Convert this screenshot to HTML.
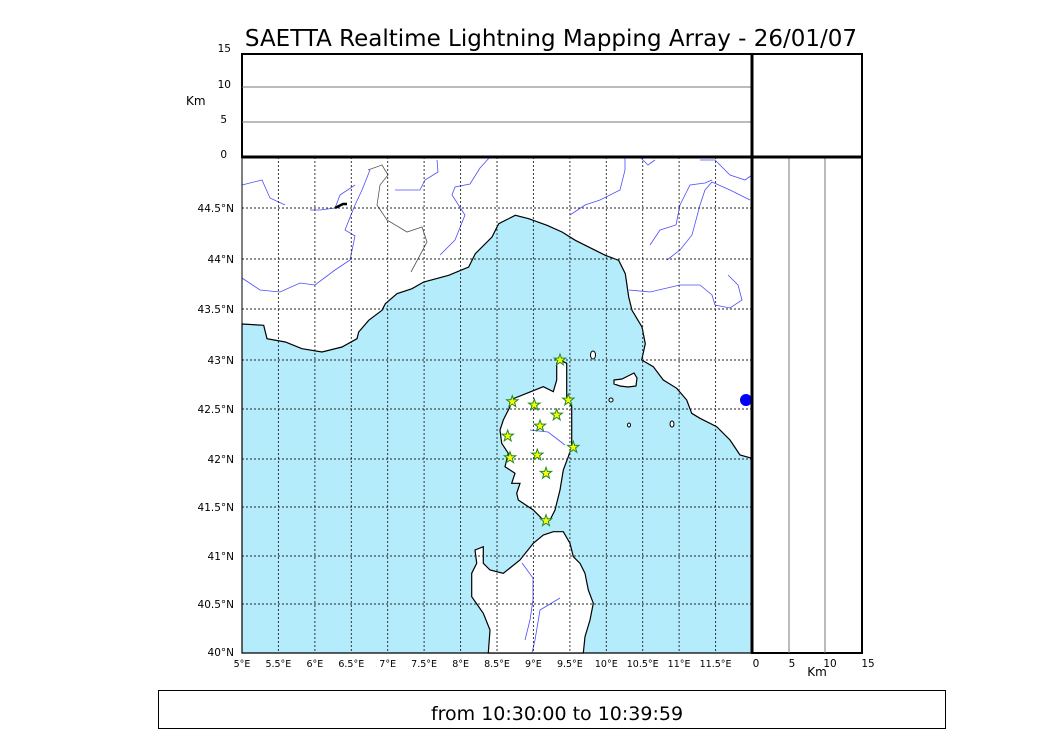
<!DOCTYPE html>
<html><head><meta charset="utf-8"><style>
body{margin:0;background:#fff;}
svg{display:block;font-family:"DejaVu Sans","Liberation Sans",sans-serif;}
</style></head><body>
<svg width="1050" height="750" viewBox="0 0 1050 750" xmlns="http://www.w3.org/2000/svg">
<text x="551" y="46" font-size="23" text-anchor="middle">SAETTA Realtime Lightning Mapping Array - 26/01/07</text>
<rect x="242" y="157" width="510" height="496" fill="#fff"/>
<polygon fill="#b5ecfb" stroke="#000" stroke-width="1.2" points="242,324 263.7,325.3 267,338.7 285.3,342 302,348.7 322,352 342,347 357,338.7 358.7,332 368.7,320.3 382,310.3 385.3,303.7 397,293.7 412,288.7 423.7,282 448.7,275.3 468.7,267 475.3,253.7 492,237 498.7,223.7 515.3,215.3 528.7,218.7 547,225.3 562,232 575.3,240.3 592,248.7 605.3,255.3 618.7,260.3 625.3,273.7 628.7,297 632,310.3 642,327 645.3,343.7 641.7,360 653.3,366.7 663.3,380 676.7,388.3 686.7,400 691.7,413.3 700,418.3 716.7,426.7 730,440 740,455 752,458.3 752,653 242,653"/>
<polygon fill="#fff" stroke="#000" stroke-width="1.2" points="560,360 566.7,363.3 566.7,396.7 571.7,406.7 571.7,446.7 568.3,456.7 563.3,470 560,490 555,510 550,520 543.3,520 533.3,510 518.3,500 516.7,493.3 520,483.3 511.7,483.3 515,473.3 505,466.7 508.3,453.3 501.7,443.3 500,430 503.3,420 510,406.7 510,400 526.7,393.3 543.3,386.7 553.3,391.7 556.7,380 556.7,363.3"/>
<polygon fill="#fff" stroke="#000" stroke-width="1.2" points="553.3,531.7 563.3,531.7 570,543.3 573.3,556.7 580,563.3 585,573.3 588.3,590 593.3,603.3 590,620 585,636.7 583.3,653 488.3,653 490,630 483.3,613.3 471.7,596.7 471.7,573.3 476.7,563.3 475,550 483.3,546.7 483.3,563.3 490,570 503.3,573.3 520,560 533.3,543.3 543.3,535"/>
<polygon fill="#fff" stroke="#000" stroke-width="1.2" points="614,380 622,379 628,376 634,373 637,378 636,386 628,387 620,386 614,384"/>
<ellipse cx="593" cy="355" rx="2.5" ry="4" fill="#fff" stroke="#000"/>
<ellipse cx="611" cy="400" rx="2" ry="2" fill="#fff" stroke="#000"/>
<ellipse cx="629" cy="425" rx="1.5" ry="2" fill="#fff" stroke="#000"/>
<ellipse cx="672" cy="424" rx="2" ry="3" fill="#fff" stroke="#000"/>
<ellipse cx="746" cy="400" rx="6" ry="6" fill="#0000ff"/>
<g fill="none" stroke="#4d4dff" stroke-width="0.8">
<polyline points="242,185 262,180 270,198 285,205"/>
<polyline points="242,278 260,290 280,292 300,283 315,285 335,270 350,260 355,236 345,230 355,205 362,190 370,170"/>
<polyline points="310,210 320,210 335,208 340,195 355,185"/>
<polyline points="395,190 420,190 425,180 438,172 437,160"/>
<polyline points="440,255 455,240 465,215 452,195 455,187 470,184 480,168 490,157"/>
<polyline points="570,215 585,205 600,200 620,190 625,170 625,157"/>
<polyline points="640,157 648,165 655,160"/>
<polyline points="650,245 660,230 676,225 680,205 690,185 705,183 712,180"/>
<polyline points="667,260 680,250 692,235 700,205 705,190 712,182 730,190 750,200"/>
<polyline points="629,290 650,292 680,285 700,285 712,295 715,305 730,308 742,300 738,285 728,275"/>
<polyline points="700,160 715,160 730,175 745,180 752,175"/>
<polyline points="530,430 548,432 565,445"/>
<polyline points="522,563 533,578 533,600 530,620 525,640"/>
<polyline points="560,598 540,610 535,640 532,653"/>
</g>
<path d="M368,170 l14,-5 l6,10 l-8,10 l-3,20 l10,15 l20,12 l15,-5 l5,15 l-8,15 l-8,15" fill="none" stroke="#555" stroke-width="0.8"/>
<path d="M335,208 l8,-4 h4" fill="none" stroke="#000" stroke-width="2.5"/>
<g stroke="#222" stroke-width="0.9" stroke-dasharray="2,2">
<line x1="278.4" y1="157" x2="278.4" y2="653"/><line x1="314.9" y1="157" x2="314.9" y2="653"/><line x1="351.3" y1="157" x2="351.3" y2="653"/><line x1="387.7" y1="157" x2="387.7" y2="653"/><line x1="424.1" y1="157" x2="424.1" y2="653"/><line x1="460.6" y1="157" x2="460.6" y2="653"/><line x1="497" y1="157" x2="497" y2="653"/><line x1="533.4" y1="157" x2="533.4" y2="653"/><line x1="569.9" y1="157" x2="569.9" y2="653"/><line x1="606.3" y1="157" x2="606.3" y2="653"/><line x1="642.7" y1="157" x2="642.7" y2="653"/><line x1="679.1" y1="157" x2="679.1" y2="653"/><line x1="715.6" y1="157" x2="715.6" y2="653"/>
<line x1="242" y1="604" x2="752" y2="604"/><line x1="242" y1="556" x2="752" y2="556"/><line x1="242" y1="507" x2="752" y2="507"/><line x1="242" y1="459" x2="752" y2="459"/><line x1="242" y1="409" x2="752" y2="409"/><line x1="242" y1="360" x2="752" y2="360"/><line x1="242" y1="309" x2="752" y2="309"/><line x1="242" y1="259" x2="752" y2="259"/><line x1="242" y1="208" x2="752" y2="208"/>
</g>
<g fill="#ffff00" stroke="#228b22" stroke-width="1">
<path id="s" d="M0,-6 L1.4,-1.9 5.7,-1.9 2.3,0.7 3.5,4.9 0,2.4 -3.5,4.9 -2.3,0.7 -5.7,-1.9 -1.4,-1.9Z" transform="translate(560,360)"/>
<use href="#s" transform="translate(-47.7,41.7)"/><use href="#s" transform="translate(-25.7,45)"/><use href="#s" transform="translate(8.3,40)"/><use href="#s" transform="translate(-3.3,55)"/><use href="#s" transform="translate(-20,66)"/><use href="#s" transform="translate(-52.3,76)"/><use href="#s" transform="translate(13.3,87.3)"/><use href="#s" transform="translate(-50,97.7)"/><use href="#s" transform="translate(-22.7,95)"/><use href="#s" transform="translate(-14,113.3)"/><use href="#s" transform="translate(-14,160.7)"/>
</g>
<rect x="242" y="157" width="510" height="496" fill="none" stroke="#000" stroke-width="1"/>
<rect x="242" y="54" width="620" height="103" fill="none" stroke="#000" stroke-width="2"/>
<line x1="242" y1="87" x2="752" y2="87" stroke="#777" stroke-width="1"/>
<line x1="242" y1="122" x2="752" y2="122" stroke="#777" stroke-width="1"/>
<rect x="752" y="157" width="110" height="496" fill="none" stroke="#000" stroke-width="2"/>
<line x1="789" y1="157" x2="789" y2="653" stroke="#777"/>
<line x1="825" y1="157" x2="825" y2="653" stroke="#777"/>
<line x1="242" y1="157" x2="862" y2="157" stroke="#000" stroke-width="3"/>
<line x1="752" y1="54" x2="752" y2="653" stroke="#000" stroke-width="3"/>
<g font-size="10.5" text-anchor="end">
<text x="231" y="52">15</text><text x="231" y="88">10</text><text x="227" y="123">5</text><text x="227" y="158">0</text>
<text x="234" y="212">44.5°N</text><text x="234" y="263">44°N</text><text x="234" y="313">43.5°N</text><text x="234" y="364">43°N</text><text x="234" y="413">42.5°N</text><text x="234" y="463">42°N</text><text x="234" y="511">41.5°N</text><text x="234" y="560">41°N</text><text x="234" y="608">40.5°N</text><text x="234" y="656">40°N</text>
</g>
<text x="186" y="105" font-size="12">Km</text>
<g font-size="9.5" text-anchor="middle">
<text x="242" y="667">5°E</text><text x="278.4" y="667">5.5°E</text><text x="314.9" y="667">6°E</text><text x="351.3" y="667">6.5°E</text><text x="387.7" y="667">7°E</text><text x="424.1" y="667">7.5°E</text><text x="460.6" y="667">8°E</text><text x="497" y="667">8.5°E</text><text x="533.4" y="667">9°E</text><text x="569.9" y="667">9.5°E</text><text x="606.3" y="667">10°E</text><text x="642.7" y="667">10.5°E</text><text x="679.1" y="667">11°E</text><text x="715.6" y="667">11.5°E</text>
<text x="756" y="667" font-size="10.5">0</text><text x="792" y="667" font-size="10.5">5</text><text x="830" y="667" font-size="10.5">10</text><text x="868" y="667" font-size="10.5">15</text>
</g>
<text x="817" y="676" font-size="12" text-anchor="middle">Km</text>
<rect x="158.5" y="690.5" width="787" height="38" fill="none" stroke="#000" stroke-width="1"/>
<text x="557" y="720" font-size="19" text-anchor="middle">from 10:30:00 to 10:39:59</text>
</svg>
</body></html>
